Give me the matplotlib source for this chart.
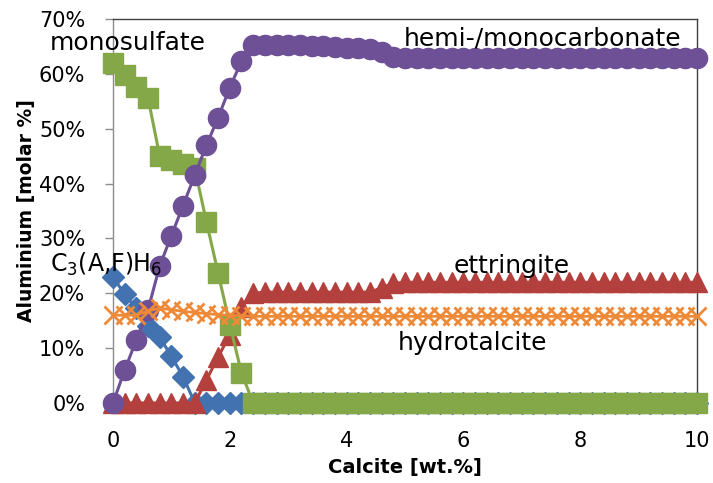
import matplotlib
matplotlib.use("Agg")
import matplotlib.pyplot as plt
from matplotlib.ticker import FuncFormatter

plt.rcParams['font.family'] = ['DejaVu Sans']
plt.rcParams['mathtext.fontset'] = 'dejavusans'

calcite = [0.0, 0.2, 0.4, 0.6, 0.8, 1.0, 1.2, 1.4, 1.6, 1.8,
           2.0, 2.2, 2.4, 2.6, 2.8, 3.0, 3.2, 3.4, 3.6, 3.8,
           4.0, 4.2, 4.4, 4.6, 4.8, 5.0, 5.2, 5.4, 5.6, 5.8,
           6.0, 6.2, 6.4, 6.6, 6.8, 7.0, 7.2, 7.4, 7.6, 7.8,
           8.0, 8.2, 8.4, 8.6, 8.8, 9.0, 9.2, 9.4, 9.6, 9.8, 10.0]

c3afh6 = [23.0, 19.8, 17.3, 14.0, 12.0, 8.5, 4.8, 0.0, 0.0, 0.0,
          0.0, 0.0, 0.0, 0.0, 0.0, 0.0, 0.0, 0.0, 0.0, 0.0,
          0.0, 0.0, 0.0, 0.0, 0.0, 0.0, 0.0, 0.0, 0.0, 0.0,
          0.0, 0.0, 0.0, 0.0, 0.0, 0.0, 0.0, 0.0, 0.0, 0.0,
          0.0, 0.0, 0.0, 0.0, 0.0, 0.0, 0.0, 0.0, 0.0, 0.0, 0.0]

ettringite = [0.0, 0.0, 0.0, 0.0, 0.0, 0.0, 0.0, 0.0, 4.2, 8.4,
              12.4, 17.5, 20.0, 20.2, 20.2, 20.2, 20.2, 20.2, 20.2, 20.2,
              20.2, 20.2, 20.2, 21.0, 21.8, 22.0, 22.0, 22.0, 22.0, 22.0,
              22.0, 22.0, 22.0, 22.0, 22.0, 22.0, 22.0, 22.0, 22.0, 22.0,
              22.0, 22.0, 22.0, 22.0, 22.0, 22.0, 22.0, 22.0, 22.0, 22.0, 22.0]

monosulfate = [62.0, 59.8, 57.6, 55.6, 45.0, 44.3, 43.6, 42.8, 33.0, 23.7,
               14.3, 5.5, 0.0, 0.0, 0.0, 0.0, 0.0, 0.0, 0.0, 0.0,
               0.0, 0.0, 0.0, 0.0, 0.0, 0.0, 0.0, 0.0, 0.0, 0.0,
               0.0, 0.0, 0.0, 0.0, 0.0, 0.0, 0.0, 0.0, 0.0, 0.0,
               0.0, 0.0, 0.0, 0.0, 0.0, 0.0, 0.0, 0.0, 0.0, 0.0, 0.0]

carbonate = [0.0, 6.0, 11.5, 17.0, 25.0, 30.5, 36.0, 41.5, 47.0, 52.0,
             57.5, 62.3, 65.2, 65.3, 65.3, 65.2, 65.2, 65.1, 65.0, 64.9,
             64.8, 64.7, 64.5, 64.0, 63.0, 62.8, 62.8, 62.8, 62.8, 62.8,
             62.8, 62.8, 62.8, 62.8, 62.8, 62.8, 62.8, 62.8, 62.8, 62.8,
             62.8, 62.8, 62.8, 62.8, 62.8, 62.8, 62.8, 62.8, 62.8, 62.8, 62.8]

hydrotalcite = [16.0, 16.0, 16.0, 16.8, 17.3, 17.0, 16.7, 16.5, 16.3, 16.1,
                16.0, 15.9, 15.8, 15.8, 15.8, 15.8, 15.8, 15.8, 15.8, 15.8,
                15.8, 15.8, 15.8, 15.8, 15.8, 15.8, 15.8, 15.8, 15.8, 15.8,
                15.8, 15.8, 15.8, 15.8, 15.8, 15.8, 15.8, 15.8, 15.8, 15.8,
                15.8, 15.8, 15.8, 15.8, 15.8, 15.8, 15.8, 15.8, 15.8, 15.8, 15.8]

yticks = [0, 10, 20, 30, 40, 50, 60, 70]
xticks = [0, 2, 4, 6, 8, 10]

fig = plt.figure(figsize=(7.13, 4.83), dpi=100)
ax = fig.add_axes([113/713, 1 - 403/483, (697 - 113)/713, (403 - 19)/483])

blue = '#4273B0'
red = '#B3403D'
green = '#84A747'
purple = '#6D5096'
orange = '#EE8A37'

ax.plot(calcite, c3afh6, color=blue, lw=2.2, marker='D', ms=11,
        clip_on=False, zorder=3)
ax.plot(calcite, ettringite, color=red, lw=2.2, marker='^', ms=14,
        clip_on=False, zorder=4)
ax.plot(calcite, monosulfate, color=green, lw=2.2, marker='s', ms=14,
        clip_on=False, zorder=5)
ax.plot(calcite, carbonate, color=purple, lw=2.2, marker='o', ms=14.5,
        clip_on=False, zorder=6)
ax.plot(calcite, hydrotalcite, color=orange, lw=2.0, marker='x', ms=13.5,
        mew=2.0, clip_on=False, zorder=7)

ax.set_xlim(0, 10)
ax.set_ylim(0, 70)
ax.set_xticks(xticks)
ax.set_yticks(yticks)
ax.yaxis.set_major_formatter(FuncFormatter(lambda v, p: f"{int(v)}%"))

ax.tick_params(axis='y', direction='out', length=6, width=1, color='#8C8C8C',
               labelsize=15, pad=14)
ax.tick_params(axis='x', length=0, labelsize=15, pad=20)

ax.spines['left'].set_color('#8C8C8C')
ax.spines['bottom'].set_color('#8C8C8C')
ax.spines['top'].set_color('#404040')
ax.spines['right'].set_color('#404040')
for s in ax.spines.values():
    s.set_linewidth(1.0)

ax.set_xlabel('Calcite [wt.%]', fontsize=14, fontweight='bold')
ax.set_ylabel('Aluminium [molar %]', fontsize=13.5, fontweight='bold')
ax.xaxis.set_label_coords(0.5, -0.143)
ax.yaxis.set_label_coords(-0.132, 0.5)

ax.text(-1.08, 64.3, 'monosulfate', fontsize=18, ha='left', va='baseline',
        clip_on=False, zorder=10)
ax.text(9.74, 65.1, 'hemi-/monocarbonate', fontsize=18, ha='right', va='baseline',
        zorder=10)
ax.text(-1.08, 24.0, r'C$_3$(A,F)H$_6$', fontsize=17, ha='left', va='baseline',
        clip_on=False, zorder=10)
ax.text(6.83, 23.7, 'ettringite', fontsize=18, ha='center', va='baseline', zorder=10)
ax.text(6.15, 9.7, 'hydrotalcite', fontsize=18, ha='center', va='baseline', zorder=10)

fig.savefig('out.png', dpi=100)
